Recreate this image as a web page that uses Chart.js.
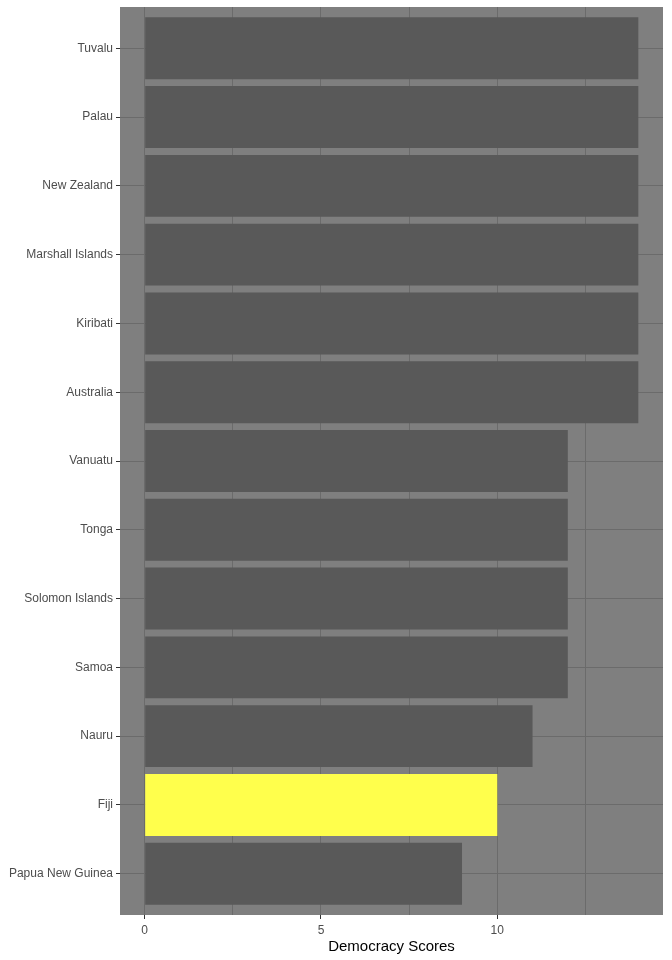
<!DOCTYPE html>
<html>
<head>
<meta charset="utf-8">
<script src="https://cdn.jsdelivr.net/npm/chart.js@4"></script>
<style>
  html, body { margin: 0; padding: 0; background: #fff; }
  #wrap { width: 672px; height: 960px; }
</style>
</head>
<body>
<div id="wrap"><canvas id="chBar"></canvas></div>
<script>
// data
var countries = ['Tuvalu', 'Palau', 'New Zealand', 'Marshall Islands', 'Kiribati', 'Australia',
  'Vanuatu', 'Tonga', 'Solomon Islands', 'Samoa', 'Nauru', 'Fiji', 'Papua New Guinea'];
var scores = [14, 14, 14, 14, 14, 14, 12, 12, 12, 12, 11, 10, 9];
var highlight = 'Fiji';
var xTicks = [0, 2.5, 5, 7.5, 10, 12.5];
var xLabels = [0, 5, 10];

// colors
var panelColor = '#7f7f7f';
var barColor = '#595959';
var hiColor = '#ffff4c';
var gridColor = '#6b6b6b';

var panelBg = {
  id: 'panelBg',
  // ggplot style: 0.6 category of room at each end instead of 0.5
  afterLayout: function (chart) {
    var y = chart.scales.y;
    y._startValue = -0.6;
    y._valueRange = countries.length + 0.2;
  },
  beforeDraw: function (chart) {
    var a = chart.chartArea, ctx = chart.ctx;
    ctx.save();
    ctx.fillStyle = panelColor;
    ctx.fillRect(a.left, a.top, a.right - a.left, a.bottom - a.top);
    ctx.restore();
  }
};

var chBar = document.getElementById('chBar');
new Chart(chBar, {
  type: 'bar',
  data: {
    labels: countries,
    datasets: [{
      data: scores,
      backgroundColor: countries.map(c => c === highlight ? hiColor : barColor),
      borderWidth: 0,
      barPercentage: 0.9,
      categoryPercentage: 1
    }]
  },
  options: {
    indexAxis: 'y',
    responsive: true,
    maintainAspectRatio: false,
    animation: false,
    layout: { padding: { top: 7, right: 9, bottom: 4, left: 0 } },
    plugins: {
      legend: { display: false },
      tooltip: { enabled: false }
    },
    scales: {
      x: {
        min: -0.7,
        max: 14.7,
        afterBuildTicks: function (scale) {
          scale.ticks = xTicks.map(v => ({ value: v }));
        },
        afterFit: function (scale) {
          scale.height = 41;
          scale.paddingLeft = 0;
          scale.paddingRight = 0;
        },
        border: { display: false },
        grid: {
          color: gridColor,
          lineWidth: 1,
          tickLength: 4,
          tickColor: function (ctx) {
            return xLabels.indexOf(ctx.tick.value) >= 0 ? '#333333' : 'rgba(0,0,0,0)';
          }
        },
        ticks: {
          color: '#4d4d4d',
          padding: 4,
          maxRotation: 0,
          autoSkip: false,
          font: { family: 'Liberation Sans', size: 12 },
          callback: function (v) { return xLabels.indexOf(v) >= 0 ? String(v) : ''; }
        },
        title: {
          display: true,
          text: 'Democracy Scores',
          color: '#000000',
          padding: { top: 0, bottom: 0 },
          font: { family: 'Liberation Sans', size: 15 }
        }
      },
      y: {
        afterFit: function (scale) {
          scale.width = 120;
          scale.paddingTop = 0;
          scale.paddingBottom = 0;
        },
        border: { display: false },
        grid: {
          offset: false,
          color: gridColor,
          lineWidth: 1,
          tickLength: 4,
          tickColor: '#333333'
        },
        ticks: {
          color: '#4d4d4d',
          padding: 3,
          autoSkip: false,
          font: { family: 'Liberation Sans', size: 12 }
        }
      }
    }
  },
  plugins: [panelBg]
});
</script>
</body>
</html>
